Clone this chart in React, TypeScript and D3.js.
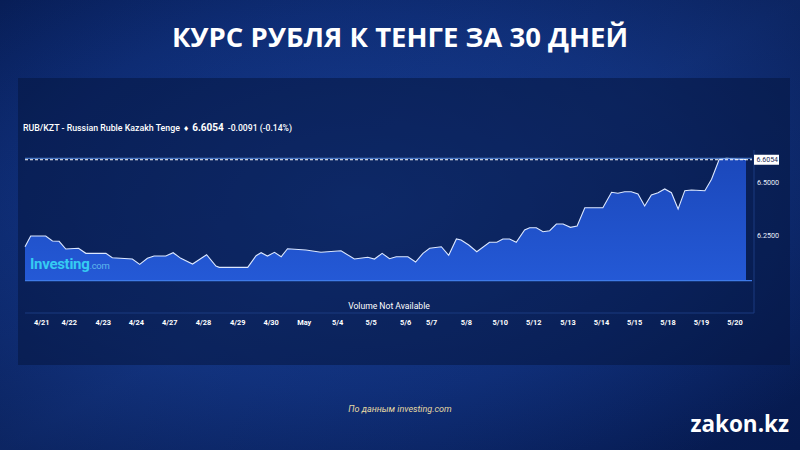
import React from "react";
import * as d3 from "d3";

// ---- data ----
const title = "КУРС РУБЛЯ К ТЕНГЕ ЗА 30 ДНЕЙ";
const pairName = "RUB/KZT - Russian Ruble Kazakh Tenge";
const lastValue = 6.6054;
const changeText = "-0.0091 (-0.14%)";

// time position (trading-day units) of each price sample
const times = [
  -0.5, -0.33, 0.12, 0.32, 0.52, 0.72, 1.1, 1.32, 1.92, 2.11, 2.71, 2.93, 3.16, 3.36, 3.71, 3.93, 4.16,
  4.51, 4.93, 5.21, 5.31, 6.16, 6.41, 6.56, 6.75, 6.96, 7.16, 7.35, 7.9, 8.35, 8.95, 9.35, 9.75, 9.95,
  10.18, 10.4, 10.6, 10.95, 11.18, 11.4, 11.6, 11.95, 12.17, 12.4, 12.54, 12.77, 13.01, 13.39, 13.61,
  13.79, 13.99, 14.19, 14.44, 14.59, 14.79, 14.99, 15.19, 15.39, 15.59, 15.81, 16.01, 16.24, 16.78,
  17.04, 17.23, 17.43, 17.63, 17.83, 18.03, 18.23, 18.43, 18.63, 18.83, 19.03, 19.23, 19.43, 19.83,
  20.03, 20.26, 20.48, 20.78, 20.98, 21.06,
];
const prices = [
  6.1985, 6.2486, 6.2486, 6.2252, 6.2238, 6.1877, 6.191, 6.1676, 6.1676, 6.147, 6.1409, 6.1161, 6.1442,
  6.155, 6.155, 6.1704, 6.1442, 6.1175, 6.161, 6.1081, 6.1021, 6.1021, 6.1564, 6.1704, 6.155, 6.1723,
  6.1517, 6.1891, 6.1831, 6.1723, 6.1798, 6.1409, 6.1489, 6.1409, 6.1676, 6.1423, 6.1517, 6.1517,
  6.1269, 6.1676, 6.191, 6.1985, 6.1582, 6.2346, 6.2299, 6.2065, 6.1751, 6.2191, 6.2191, 6.2346,
  6.2346, 6.2191, 6.2767, 6.2874, 6.2874, 6.2687, 6.2734, 6.3048, 6.3048, 6.2893, 6.2954, 6.3811,
  6.3811, 6.4532, 6.4485, 6.456, 6.456, 6.4452, 6.389, 6.4405, 6.4513, 6.4686, 6.4513, 6.375, 6.4607,
  6.464, 6.4607, 6.514, 6.6077, 6.6124, 6.6091, 6.6077, 6.6054,
];

const tickLabels = [
  "4/21", "4/22", "4/23", "4/24", "4/27", "4/28", "4/29", "4/30", "May", "5/4", "5/5",
  "5/6", "5/7", "5/8", "5/10", "5/12", "5/13", "5/14", "5/15", "5/18", "5/19", "5/20",
];
const tickTimes = [
  0, 0.82, 1.84, 2.83, 3.83, 4.84, 5.86, 6.86, 7.85, 8.85, 9.85,
  10.88, 11.66, 12.7, 13.71, 14.71, 15.74, 16.74, 17.73, 18.73, 19.73, 20.73,
];
const yTicks = [6.25, 6.5];

export default function App() {
  const W = 800;
  const H = 450;
  const plotLeft = 25;
  const plotRight = 746;
  const x = d3.scaleLinear().domain([-0.5, 21.06]).range([plotLeft, plotRight]);
  const y = d3.scaleLinear().domain([6.04, 6.6]).range([280.6, 160.9]);
  const pts = times.map((t, i) => [t, prices[i]] as [number, number]);
  const area = d3
    .area<[number, number]>()
    .x((d) => x(d[0]))
    .y0(y(6.04))
    .y1((d) => y(d[1]));
  const line = d3
    .line<[number, number]>()
    .x((d) => x(d[0]))
    .y((d) => y(d[1]));
  const fmt = d3.format(".4f");
  const sans = "Roboto, 'Open Sans', 'DejaVu Sans', sans-serif";
  const lastY = y(lastValue);

  return (
    <svg
      width={W}
      height={H}
      style={{ position: "absolute", left: 0, top: 0, display: "block" }}
      fontFamily={sans}
    >
      <defs>
        <radialGradient id="bg" cx="0.45" cy="0.45" r="0.7">
          <stop offset="0" stopColor="#153a8e" />
          <stop offset="0.6" stopColor="#0d2a70" />
          <stop offset="1" stopColor="#061a4f" />
        </radialGradient>
        <linearGradient id="band" x1="0" y1="0" x2="1" y2="1">
          <stop offset="0" stopColor="#1a47a8" stopOpacity="0" />
          <stop offset="0.5" stopColor="#2a5bc0" stopOpacity="0.18" />
          <stop offset="1" stopColor="#1a47a8" stopOpacity="0" />
        </linearGradient>
        <linearGradient id="areaFill" x1="0" y1="0" x2="0" y2="1">
          <stop offset="0" stopColor="#1b48bb" />
          <stop offset="1" stopColor="#2459d6" />
        </linearGradient>
      </defs>
      <rect x={0} y={0} width={W} height={H} fill="url(#bg)" />
      <rect x={0} y={0} width={W} height={H} fill="url(#band)" />

      {/* title */}
      <text
        x={400}
        y={47}
        textAnchor="middle"
        fill="#ffffff"
        fontSize={27.5}
        fontWeight={700}
        fontFamily="'Open Sans', Roboto, sans-serif"
      >
        {title}
      </text>

      {/* chart panel */}
      <rect x={18} y={78} width={772} height={287} fill="#05163f" opacity={0.55} />

      {/* header */}
      <text x={23} y={130.5} fill="#ffffff" fontSize={8.8} fontWeight={500}>
        {pairName}
        <tspan dx={3} fontSize={7}>♦</tspan>
        <tspan dx={3} fontSize={10} fontWeight={700}>{fmt(lastValue)}</tspan>
        <tspan dx={4} fontSize={8.6}>{changeText}</tspan>
      </text>

      {/* area + line */}
      <path d={area(pts) ?? ""} fill="url(#areaFill)" />
      <path d={line(pts) ?? ""} fill="none" stroke="#dce8ff" strokeWidth={1.1} />

      {/* top border & last value dashed line */}
      <line x1={plotLeft} x2={752} y1={158.3} y2={158.3} stroke="#5a8fe0" strokeWidth={1} />
      <line
        x1={plotLeft}
        x2={752}
        y1={lastY}
        y2={lastY}
        stroke="#ffffff"
        strokeWidth={1}
        strokeDasharray="3,2"
      />
      {/* baseline */}
      <line x1={plotLeft} x2={752} y1={y(6.04)} y2={y(6.04)} stroke="#3f7be8" strokeWidth={1.2} />
      {/* separators */}
      <line x1={754} x2={754} y1={150} y2={313} stroke="#1a3a80" strokeWidth={1} />
      <line x1={plotLeft} x2={754} y1={313} y2={313} stroke="#1a3a80" strokeWidth={1} />

      {/* y axis labels */}
      {yTicks.map((v) => (
        <text
          key={v}
          x={757}
          y={y(v) + 2.5}
          fill="#e8eefc"
          fontSize={7.2}
        >
          {fmt(v)}
        </text>
      ))}
      <rect x={754} y={lastY - 5} width={25} height={10} fill="#ffffff" />
      <text x={756.5} y={lastY + 2.5} fill="#1b2b55" fontSize={7}>
        {fmt(lastValue)}
      </text>

      {/* logo */}
      <text x={30} y={269} fill="#35cbf2" fontSize={15} fontWeight={700} letterSpacing={-0.3}>
        Investing
        <tspan fontSize={9.5} fontWeight={400} fill="#5fb8ec">.com</tspan>
      </text>

      {/* volume note */}
      <text x={389} y={309} textAnchor="middle" fill="#ffffff" fontSize={8.6}>
        Volume Not Available
      </text>

      {/* x axis labels */}
      {tickLabels.map((lab, i) => (
        <text
          key={lab}
          x={x(tickTimes[i])}
          y={325}
          textAnchor="middle"
          fill="#ffffff"
          fontSize={7.4}
          fontWeight={700}
        >
          {lab}
        </text>
      ))}

      {/* footer */}
      <text
        x={400}
        y={412}
        textAnchor="middle"
        fill="#e6d9a2"
        fontSize={9}
        fontStyle="italic"
      >
        По данным investing.com
      </text>
      <text
        x={789}
        y={432}
        textAnchor="end"
        fill="#ffffff"
        fontSize={22.5}
        fontWeight={700}
        fontFamily="'Open Sans', Roboto, sans-serif"
      >
        zakon.kz
      </text>
    </svg>
  );
}
